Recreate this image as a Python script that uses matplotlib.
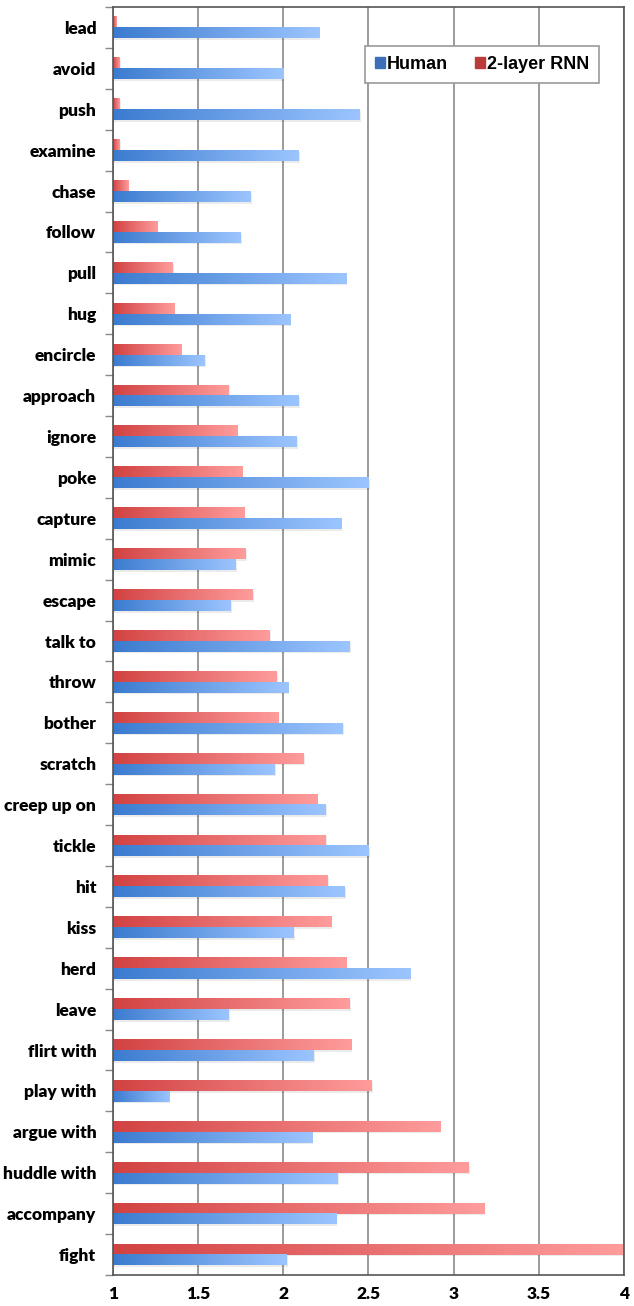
import numpy as np
import matplotlib
matplotlib.use('Agg')
import matplotlib.pyplot as plt
from matplotlib.colors import LinearSegmentedColormap
from matplotlib.patches import Patch

verbs = ['lead', 'avoid', 'push', 'examine', 'chase', 'follow', 'pull', 'hug',
         'encircle', 'approach', 'ignore', 'poke', 'capture', 'mimic', 'escape',
         'talk to', 'throw', 'bother', 'scratch', 'creep up on', 'tickle', 'hit',
         'kiss', 'herd', 'leave', 'flirt with', 'play with', 'argue with',
         'huddle with', 'accompany', 'fight']
human = [2.21, 2.00, 2.45, 2.09, 1.81, 1.75, 2.37, 2.04, 1.54, 2.09, 2.08, 2.50,
         2.34, 1.72, 1.69, 2.39, 2.03, 2.35, 1.95, 2.25, 2.50, 2.36, 2.06, 2.745,
         1.68, 2.18, 1.33, 2.17, 2.32, 2.31, 2.02]
rnn = [1.02, 1.04, 1.04, 1.04, 1.09, 1.26, 1.35, 1.36, 1.40, 1.68, 1.73, 1.76,
       1.77, 1.78, 1.82, 1.92, 1.96, 1.97, 2.12, 2.20, 2.25, 2.26, 2.28, 2.37,
       2.39, 2.40, 2.52, 2.92, 3.09, 3.18, 4.00]
xticks = [1, 1.5, 2, 2.5, 3, 3.5, 4]

blue_cm = LinearSegmentedColormap.from_list('b', ['#3b7bcf', '#9cc5ff'])
red_cm = LinearSegmentedColormap.from_list('r', ['#d24242', '#ff9c9c'])

fig = plt.figure(figsize=(6.34, 13.06), dpi=100)
ax = fig.add_axes([113/634, 31/1306, 511/634, 1268/1306])

y = np.arange(len(verbs))
h = 0.265
grad = np.linspace(0, 1, 256).reshape(1, -1)

red_bars = ax.barh(y - h/2, np.array(rnn) - 1, left=1, height=h, color='none', edgecolor='none')
blue_bars = ax.barh(y + h/2, np.array(human) - 1, left=1, height=h, color='none', edgecolor='none')

for bars, cm in [(red_bars, red_cm), (blue_bars, blue_cm)]:
    for b in bars:
        x0, y0 = b.get_x(), b.get_y()
        w, hh = b.get_width(), b.get_height()
        # soft shadow
        ax.add_patch(plt.Rectangle((x0, y0 + 0.04), w + 0.006, hh, color='#000000',
                                   alpha=0.08, lw=0, zorder=1.5))
        ax.imshow(grad, cmap=cm, aspect='auto', extent=[x0, x0 + w, y0 + hh, y0],
                  zorder=2, interpolation='bilinear')

lab_font = dict(fontfamily='Lato', fontweight='heavy', fontsize=12.5)
ax.set_xlim(1, 4)
ax.set_ylim(len(verbs) - 0.5, -0.5)
ax.set_xticks(xticks)
ax.set_xticklabels([('%g' % v) for v in xticks], **lab_font)
ax.set_yticks(y)
ax.set_yticklabels(verbs, **lab_font)
ax.set_yticks(np.arange(len(verbs) + 1) - 0.5, minor=True)
ax.tick_params(axis='y', which='major', length=0, pad=12)
ax.tick_params(axis='y', which='minor', length=6, width=1, color='#888888')
ax.tick_params(axis='x', length=0, pad=8)
ax.xaxis.grid(True, color='#8a8a8a', lw=1.2)
ax.set_axisbelow(True)
for s in ax.spines.values():
    s.set_color('#555555')
    s.set_linewidth(1.2)

handles = [Patch(color='#3d6fb8', label='Human'), Patch(color='#bb3b3b', label='2-layer RNN')]
leg = ax.legend(handles=handles, ncol=2, loc='upper right',
                bbox_to_anchor=((599 - 113) / 511, 1 - (46 - 7) / 1268), borderaxespad=0,
                prop={'family': 'Liberation Sans', 'weight': 'bold', 'size': 13},
                handlelength=0.55, handleheight=0.55, handletextpad=0.1, columnspacing=1.5,
                fancybox=False, framealpha=1, edgecolor='#999999', borderpad=0.55)
leg.get_frame().set_linewidth(1.2)

fig.savefig('out.png', dpi=100)
